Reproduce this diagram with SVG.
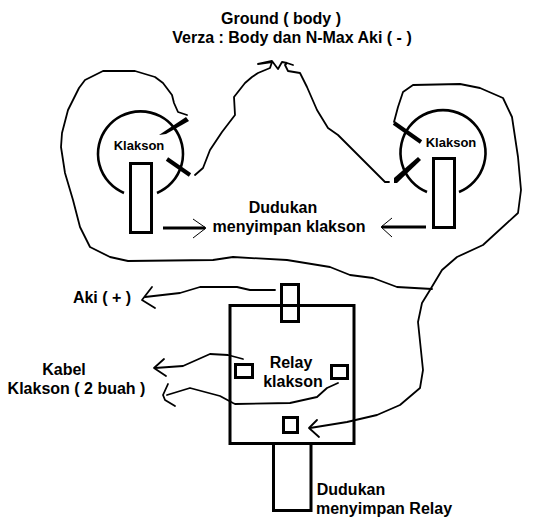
<svg xmlns="http://www.w3.org/2000/svg" width="533" height="527" viewBox="0 0 533 527">
<style>
text{font-family:"Liberation Sans",Arial,sans-serif;font-weight:700;fill:#000;font-size:16px;text-anchor:middle}
.sm{font-size:13px}
.wire{fill:none;stroke:#000;stroke-width:1.8;stroke-linejoin:round;stroke-linecap:round}
.thin{fill:none;stroke:#000;stroke-width:1}
.arc{fill:none;stroke:#000;stroke-width:2.6}
.box{fill:none;stroke:#000;stroke-width:3}
.heavy{fill:none;stroke:#000;stroke-width:4;stroke-linecap:butt}
.ptr{fill:none;stroke:#000;stroke-width:3}
</style>
<rect width="533" height="527" fill="#fff"/>
<g id="connectors">
<polyline class="wire" points="187,115 178,112 174,103 172,95 163,83 155,77 135,71 103,71 85,80 79,88 68,110 62,133 61,147 65,173 73,200 80,227 90,247 110,257 128,261 213,260 233,257 287,260 330,267 350,275 373,278 397,287 432,289"/>
<polyline class="wire" points="394,122 398,107 403,92 413,85 460,84 480,88 503,98 512,117 518,157 521,190 518,213 483,245 457,257 442,270 430,290 422,303 418,322 423,370 420,388 400,405 377,415 347,422 310,428"/>
<polyline class="wire" points="317,420 309,428 319,437"/>
<polyline class="wire" points="195,175 203,168 210,150 222,132 235,115 234,97 245,83 252,77 258,73 270,68 272,62 258,64 272,61 275,65 278,69 282,62 287,63 293,65 287,63 285,65 288,71 300,73 307,87 317,110 328,128 338,135 385,182 389,182"/>
<polyline class="wire" points="275,290 250,290 237,287 200,287 180,293 145,297"/>
<polyline class="wire" points="152,287 142,300 155,308"/>
<polyline class="wire" points="243,359 228,355 210,354 183,366 155,368"/>
<polyline class="wire" points="164,359 154,368 166,376"/>
<polyline class="wire" points="338,383 327,388 317,397 290,403 235,404 233,403 220,396 190,388 167,395"/>
<polyline class="wire" points="168,384 163,395 165,400 175,406"/>
<line class="ptr" x1="163" y1="228" x2="205" y2="228"/>
<polyline class="thin" points="193,219 206,228 193,238"/>
<line class="ptr" x1="426" y1="227" x2="382" y2="227"/>
<polyline class="thin" points="392,218 381,227 392,237"/>
</g>
<g id="klakson-left">
<path class="arc" d="M124 193A42.500 42.500 0 1 1 157 193"/>
<rect class="box" x="130.500" y="163.500" width="21" height="69" fill="none"/>
<polygon points="186,117 189,121 166,134 159,135"/>
<line class="heavy" x1="167" y1="159" x2="190" y2="175"/>
<text class="sm" x="139" y="150">Klakson</text>
</g>
<g id="klakson-right">
<path class="arc" d="M427 192A42.500 42.500 0 1 1 459 192"/>
<rect class="box" x="433.500" y="158.500" width="21" height="69"/>
<line class="heavy" x1="394" y1="123" x2="421" y2="142"/>
<polygon points="418,157 421,160 397,183 394,183 394,178"/>
<text class="sm" x="451" y="147">Klakson</text>
</g>
<g id="relay">
<rect class="box" x="230" y="305.500" width="124" height="138"/>
<rect class="box" x="281.500" y="284.500" width="17" height="37"/>
<rect class="box" x="235.500" y="364.500" width="17" height="13"/>
<rect class="box" x="331.500" y="365.500" width="16" height="13"/>
<rect class="box" x="283.500" y="417.500" width="14" height="15"/>
<polyline class="box" points="273.500,444 273.500,510.500 311,510.500 311,444"/>
<text x="291" y="368">Relay</text>
<text x="293" y="387">klakson</text>
</g>
<g id="labels">
<text x="281" y="24">Ground ( body )</text>
<text x="292" y="43">Verza : Body dan N-Max Aki ( - )</text>
<text x="283" y="213">Dudukan</text>
<text x="289" y="232">menyimpan klakson</text>
<text x="102" y="303">Aki ( + )</text>
<text x="64" y="375">Kabel</text>
<text x="76.500" y="394">Klakson ( 2 buah )</text>
<text x="351" y="495">Dudukan</text>
<text x="384" y="514">menyimpan Relay</text>
</g>
</svg>
